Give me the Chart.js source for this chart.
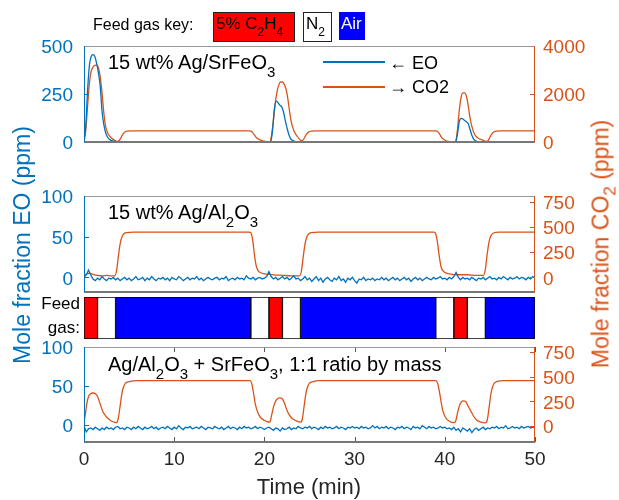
<!DOCTYPE html>
<html><head><meta charset="utf-8">
<script src="https://cdn.jsdelivr.net/npm/chart.js@4.4.0/dist/chart.umd.min.js"></script>
<style>
body{margin:0;background:#fff;}
#wrap{position:relative;width:619px;height:500px;overflow:hidden;font-family:'Liberation Sans',Arial,Helvetica,sans-serif;color:#000;}
canvas{position:absolute;left:0;}
.t{position:absolute;white-space:nowrap;line-height:1;}
.s{position:relative;}
.box{position:absolute;box-sizing:border-box;}
</style></head><body><div id="wrap">
<canvas id="c1" width="619" height="146" style="top:21px"></canvas>
<canvas id="c2" width="619" height="146" style="top:171px"></canvas>
<canvas id="cf" width="619" height="52" style="top:292px"></canvas>
<canvas id="c3" width="619" height="156" style="top:322px"></canvas>

<div class="t" style="left:93px;top:17px;font-size:16px">Feed gas key:</div>
<div class="box" style="left:213px;top:12px;width:82px;height:30px;background:#ff0000;border:1px solid #222"></div>
<div class="t" style="left:216px;top:15px;font-size:17px">5% C<span class="s" style="font-size:12px;top:7px">2</span>H<span class="s" style="font-size:12px;top:7px">4</span></div>
<div class="box" style="left:303px;top:12px;width:29px;height:30px;background:#fff;border:1px solid #222"></div>
<div class="t" style="left:306px;top:15px;font-size:17px">N<span class="s" style="font-size:12px;top:7px">2</span></div>
<div class="box" style="left:339px;top:12px;width:26px;height:28px;background:#0000ff"></div>
<div class="t" style="left:341px;top:15px;font-size:17px;color:#fff">Air</div>

<div class="t" style="left:108px;top:52px;font-size:20px">15 wt% Ag/SrFeO<span class="s" style="font-size:15px;top:8px">3</span></div>
<div class="t" style="left:108px;top:202px;font-size:20px">15 wt% Ag/Al<span class="s" style="font-size:15px;top:8px">2</span>O<span class="s" style="font-size:15px;top:8px">3</span></div>
<div class="t" style="left:108px;top:354px;font-size:20px">Ag/Al<span class="s" style="font-size:15px;top:8px">2</span>O<span class="s" style="font-size:15px;top:8px">3</span> + SrFeO<span class="s" style="font-size:15px;top:8px">3</span>, 1:1 ratio by mass</div>

<div class="box" style="left:323px;top:61px;width:62px;height:1.5px;background:#0072BD"></div>
<div class="box" style="left:323px;top:86px;width:62px;height:1.5px;background:#D95319"></div>
<div class="t" style="left:389px;top:54px;font-size:18px">← EO</div>
<div class="t" style="left:389px;top:78px;font-size:18px">→ CO2</div>

<div class="t" style="left:0;width:80px;text-align:right;top:295px;font-size:17px">Feed</div>
<div class="t" style="left:0;width:80px;text-align:right;top:319px;font-size:17px">gas:</div>

<div class="t" style="left:309px;top:476px;font-size:22px;transform:translateX(-50%);color:#262626">Time (min)</div>
<div class="t" style="left:22px;top:245px;font-size:23px;color:#0072BD;transform:translate(-50%,-50%) rotate(-90deg)">Mole fraction EO (ppm)</div>
<div class="t" style="left:601px;top:244px;font-size:23px;color:#D95319;transform:translate(-50%,-50%) rotate(-90deg)">Mole fraction CO<span class="s" style="font-size:17px;top:7px">2</span> (ppm)</div>
</div>
<script>
const BLUE = '#0072BD', ORANGE = '#D95319';

// ---------- data ----------
const timeTicks = [0, 10, 20, 30, 40, 50];
const eoTicks1 = [0, 250, 500];
const co2Ticks1 = [0, 2000, 4000];
const eoTicks23 = [0, 50, 100];
const co2Ticks23 = [0, 250, 500, 750];

// Panel 1: 15 wt% Ag/SrFeO3  [time (min), EO (ppm)]
const eoSrFeO3 = [[0,0],[0.2,90],[0.4,270],[0.6,400],[0.8,445],[1.0,455],[1.2,445],[1.4,410],[1.6,360],[1.8,290],[2.0,160],[2.2,90],[2.4,48],[2.6,26],[2.9,11],[3.3,4],[3.8,1],[5,-2],[6.5,1],[8,-1],[9.5,2],[11,-2],[12.5,0],[14,-1],[15.5,2],[17,-2],[18.5,0],[20.7,0],[20.9,60],[21.1,170],[21.3,213],[21.5,205],[21.7,192],[21.9,184],[22.1,160],[22.3,115],[22.5,75],[22.7,40],[22.9,18],[23.2,6],[23.6,1],[25,-1],[27,2],[29,-2],[31,1],[33,-1],[35,2],[37,-2],[39,0],[41.2,0],[41.4,40],[41.6,105],[41.8,123],[42.0,120],[42.2,112],[42.4,105],[42.6,95],[42.8,65],[43.0,35],[43.2,15],[43.5,4],[44,0],[46,-1],[48,1],[50,0]];
// [time (min), CO2 (ppm)]
const co2SrFeO3 = [[0,0],[0.2,500],[0.4,1500],[0.6,2450],[0.8,2950],[1.0,3120],[1.2,3190],[1.4,3200],[1.6,3100],[1.8,2700],[2.0,2050],[2.2,1200],[2.4,650],[2.6,400],[2.9,220],[3.2,120],[3.5,50],[3.7,20],[3.9,60],[4.1,180],[4.3,320],[4.5,410],[4.8,450],[5.3,460],[18.3,460],[18.5,450],[18.7,390],[18.9,290],[19.1,190],[19.4,110],[19.8,50],[20.2,20],[20.5,10],[20.6,10],[20.8,300],[21.0,900],[21.2,1600],[21.4,2100],[21.6,2380],[21.8,2500],[22.0,2500],[22.2,2400],[22.4,2200],[22.6,1800],[22.8,1250],[23.0,800],[23.3,450],[23.6,250],[23.9,120],[24.1,60],[24.3,90],[24.5,220],[24.7,340],[24.9,410],[25.2,450],[25.7,460],[39.0,460],[39.2,440],[39.4,350],[39.6,210],[39.9,100],[40.2,40],[40.6,10],[41.0,0],[41.2,30],[41.4,500],[41.6,1300],[41.8,1850],[42.0,2050],[42.2,2050],[42.4,1900],[42.6,1500],[42.8,1000],[43.0,650],[43.3,320],[43.7,160],[44.2,80],[44.6,30],[44.8,60],[45.0,200],[45.2,330],[45.4,410],[45.7,450],[46.2,460],[50,460]];

// Time grid for the noisy EO traces (panels 2 and 3)
const noiseTime = [
0,0.25,0.5,0.75,1,1.25,1.5,1.75,2,2.25,2.5,2.75,3,3.25,3.5,3.75,4,4.25,4.5,4.75,
5,5.25,5.5,5.75,6,6.25,6.5,6.75,7,7.25,7.5,7.75,8,8.25,8.5,8.75,9,9.25,9.5,9.75,
10,10.25,10.5,10.75,11,11.25,11.5,11.75,12,12.25,12.5,12.75,13,13.25,13.5,13.75,14,14.25,14.5,14.75,
15,15.25,15.5,15.75,16,16.25,16.5,16.75,17,17.25,17.5,17.75,18,18.25,18.5,18.75,19,19.25,19.5,19.75,
20,20.25,20.5,20.75,21,21.25,21.5,21.75,22,22.25,22.5,22.75,23,23.25,23.5,23.75,24,24.25,24.5,24.75,
25,25.25,25.5,25.75,26,26.25,26.5,26.75,27,27.25,27.5,27.75,28,28.25,28.5,28.75,29,29.25,29.5,29.75,
30,30.25,30.5,30.75,31,31.25,31.5,31.75,32,32.25,32.5,32.75,33,33.25,33.5,33.75,34,34.25,34.5,34.75,
35,35.25,35.5,35.75,36,36.25,36.5,36.75,37,37.25,37.5,37.75,38,38.25,38.5,38.75,39,39.25,39.5,39.75,
40,40.25,40.5,40.75,41,41.25,41.5,41.75,42,42.25,42.5,42.75,43,43.25,43.5,43.75,44,44.25,44.5,44.75,
45,45.25,45.5,45.75,46,46.25,46.5,46.75,47,47.25,47.5,47.75,48,48.25,48.5,48.75,49,49.25,49.5,49.75,
50];

// Panel 2: 15 wt% Ag/Al2O3, EO (ppm) on noiseTime
const eoAl2O3 = [
0,3,9,3,-2,-4,-1,-3,1,-2,-4,-1,-2,0,-3,-1,-4,-2,0,-3,
-1,-4,-2,1,-3,-2,0,-4,-1,-3,1,-2,-4,-1,-2,0,-3,-1,-4,0,
-2,-3,1,-1,-4,-2,0,-3,-1,-2,1,-3,-1,-4,-2,0,-2,-3,-1,0,
-3,-1,-2,1,-4,-2,-1,-3,0,-2,-1,-3,2,-1,-2,0,-3,-1,0,-2,
-1,1,7,1,-2,0,-3,-1,1,-2,0,-3,-1,2,-2,-1,-4,-2,1,-3,
-1,-5,-2,1,-4,-1,-6,-2,0,-3,-5,-1,-3,1,-4,-2,-6,-1,-3,0,
-4,-7,-2,-3,0,-4,-2,-3,-1,-4,-2,-3,0,-3,-1,-4,-2,0,-3,-1,
-4,-2,0,-3,-1,-5,-2,0,-3,-1,-4,-2,0,-2,-3,0,-2,-1,1,-2,
-1,-3,0,-2,1,6,0,-3,0,-2,-1,-3,0,-2,-4,-1,-2,0,-3,-1,
1,-2,-1,-3,0,-2,1,-1,-3,0,-2,-1,1,-2,0,-1,-3,0,-2,1,
-1];
// [time (min), CO2 (ppm)]
const co2Al2O3 = [[0,20],[0.3,35],[0.6,40],[1.0,30],[1.5,20],[2.0,15],[2.5,20],[3.0,15],[3.4,15],[3.6,60],[3.8,200],[4.0,330],[4.2,400],[4.4,430],[4.7,443],[5.5,448],[18.3,448],[18.5,440],[18.7,370],[18.9,220],[19.1,110],[19.3,65],[19.6,45],[20.0,35],[21.0,25],[22.0,20],[23.0,15],[23.9,15],[24.1,60],[24.3,200],[24.5,330],[24.7,400],[24.9,430],[25.2,443],[26.0,448],[38.8,448],[39.0,430],[39.2,340],[39.4,200],[39.6,100],[39.9,55],[40.5,35],[41.5,25],[42.5,25],[43.5,20],[44.3,20],[44.5,80],[44.7,230],[44.9,350],[45.1,410],[45.4,440],[46.0,448],[50,448]];

// Panel 3: Ag/Al2O3 + SrFeO3, EO (ppm) on noiseTime
const eoMixed = [
-1,-9,-5,-4,-6,-3,-5,-7,-4,-6,-3,-5,-4,-6,-3,-2,-5,-4,-6,-3,
-4,-6,-3,-5,-2,-4,-6,-3,-5,-4,-2,-5,-3,-6,-4,-3,-5,-2,-4,-6,
-3,-5,-1,-4,-6,-3,-4,-2,-5,-4,-3,-5,-2,-4,-6,-3,-4,-5,-2,-4,
-5,-3,-6,-4,-2,-5,-3,-4,-6,-3,-5,-2,-4,-3,-5,-4,-2,-5,-3,-4,
-6,-4,-3,-5,-7,-4,-5,-8,-4,-6,-5,-3,-6,-4,-5,-2,-4,-5,-3,-4,
-2,-5,-3,-4,-6,-3,-5,-2,-4,-3,-5,-4,-2,-5,-3,-4,-6,-3,-4,-2,
-4,-3,-5,-2,-4,-3,-5,-4,-1,-4,-2,-5,-3,-4,-2,-5,-3,-4,-6,-3,
-4,-2,-5,-3,-4,-6,-2,-4,-3,-5,-1,-3,-5,-2,-4,-3,-5,-4,-2,-4,
-3,-5,-4,-6,-3,-7,-5,-9,-4,-6,-8,-5,-10,-6,-4,-7,-5,-3,-6,-4,
-5,-3,-4,-2,-5,-3,-4,-1,-5,-4,-2,-4,-3,-5,-2,-4,-3,-2,-4,-3,
-4];
// [time (min), CO2 (ppm)]
const co2Mixed = [[0,40],[0.15,120],[0.3,220],[0.5,300],[0.7,325],[1.0,335],[1.3,325],[1.5,300],[1.7,250],[1.9,195],[2.1,145],[2.4,105],[2.7,75],[3.0,55],[3.3,42],[3.6,35],[3.8,80],[4.0,200],[4.2,330],[4.4,400],[4.6,435],[5.0,450],[6.0,460],[18.4,460],[18.6,430],[18.8,330],[19.0,220],[19.3,130],[19.6,85],[20.0,58],[20.4,42],[20.6,42],[20.8,110],[21.0,190],[21.2,245],[21.4,272],[21.7,285],[22.0,275],[22.2,240],[22.4,185],[22.6,140],[22.9,95],[23.2,70],[23.6,50],[24.0,40],[24.2,70],[24.4,200],[24.6,330],[24.8,400],[25.0,435],[25.4,450],[26.0,460],[39.0,460],[39.2,435],[39.4,350],[39.6,240],[39.8,150],[40.1,85],[40.5,50],[41.0,35],[41.2,50],[41.4,130],[41.6,200],[41.8,240],[42.0,255],[42.3,250],[42.6,200],[42.9,150],[43.2,100],[43.5,65],[44.0,40],[44.5,33],[44.7,60],[44.9,180],[45.1,320],[45.3,400],[45.5,435],[45.8,452],[46.5,460],[50,460]];

// Feed gas sequence
const feedStart = [0, 1.5, 3.5, 18.5, 20.5, 22, 24, 39, 41, 42.5, 44.5];
const feedEnd   = [1.5, 3.5, 18.5, 20.5, 22, 24, 39, 41, 42.5, 44.5, 50];
const feedGas   = ['C2H4','N2','Air','N2','C2H4','N2','Air','N2','C2H4','N2','Air'];
const gasColor  = {C2H4:'#ff0000', N2:'#ffffff', Air:'#0000ff'};

// ---------- drawing ----------
Chart.defaults.font.family = "'Liberation Sans', Arial, Helvetica, sans-serif";

const pairs = arr => arr.map(p => ({x: p[0], y: p[1]}));
const zip = (xs, ys) => xs.map((x, i) => ({x: x, y: ys[i]}));
const plain = v => String(v);

const framePlugin = {
  id: 'frame',
  afterDatasetsDraw(chart, args, o) {
    const {ctx, chartArea: a, scales} = chart;
    const L = a.left, R = a.right, T = a.top, B = a.bottom, TL = 5;
    ctx.save();
    ctx.lineWidth = 1;
    ctx.strokeStyle = BLUE;
    scales.y.ticks.forEach(t => {
      const p = Math.round(scales.y.getPixelForValue(t.value)) + 0.5;
      ctx.beginPath(); ctx.moveTo(L, p); ctx.lineTo(L + TL, p); ctx.stroke();
    });
    ctx.strokeStyle = ORANGE;
    scales.y2.ticks.forEach(t => {
      const p = Math.round(scales.y2.getPixelForValue(t.value)) + 0.5;
      ctx.beginPath(); ctx.moveTo(R - TL, p); ctx.lineTo(R, p); ctx.stroke();
    });
    if (o.xTicks) {
      ctx.strokeStyle = '#555';
      scales.x.ticks.forEach(t => {
        const p = Math.round(scales.x.getPixelForValue(t.value)) + 0.5;
        ctx.beginPath(); ctx.moveTo(p, B); ctx.lineTo(p, B - TL); ctx.stroke();
        ctx.beginPath(); ctx.moveTo(p, T); ctx.lineTo(p, T + TL); ctx.stroke();
      });
    }
    ctx.strokeStyle = '#999'; ctx.lineWidth = 1;
    ctx.beginPath(); ctx.moveTo(L, T + 0.5); ctx.lineTo(R, T + 0.5); ctx.stroke();
    ctx.strokeStyle = '#777'; ctx.lineWidth = 2;
    ctx.beginPath(); ctx.moveTo(L, B); ctx.lineTo(R, B); ctx.stroke();
    ctx.lineWidth = 1;
    ctx.strokeStyle = BLUE;
    ctx.beginPath(); ctx.moveTo(L + 0.5, T); ctx.lineTo(L + 0.5, B); ctx.stroke();
    ctx.strokeStyle = ORANGE;
    ctx.beginPath(); ctx.moveTo(R - 0.5, T); ctx.lineTo(R - 0.5, B); ctx.stroke();
    ctx.restore();
  }
};

function makePanel(id, eoData, co2Data, eoSmooth, yL, yR, tL, tR, showX, padBottom) {
  const xScale = {
    type: 'linear', min: 0, max: 50, display: showX,
    grid: {display: false, drawTicks: false}, border: {display: false},
    ticks: {color: '#262626', font: {size: 19}, padding: 6, maxRotation: 0, autoSkip: false, callback: plain},
    afterBuildTicks: s => { s.ticks = timeTicks.map(v => ({value: v})); }
  };
  if (showX) xScale.afterFit = s => { s.height = 30; };
  return new Chart(document.getElementById(id), {
    type: 'line',
    data: {datasets: [
      {label: 'EO', data: eoData, yAxisID: 'y', borderColor: BLUE, borderWidth: 1.3, pointRadius: 0,
       cubicInterpolationMode: eoSmooth ? 'monotone' : 'default', tension: 0},
      {label: 'CO2', data: co2Data, yAxisID: 'y2', borderColor: ORANGE, borderWidth: 1.3, pointRadius: 0,
       cubicInterpolationMode: 'monotone'}
    ]},
    options: {
      responsive: false, animation: false, events: [],
      layout: {padding: {top: 25, bottom: padBottom, left: 0, right: 0}},
      plugins: {legend: {display: false}, tooltip: {enabled: false}, frame: {xTicks: showX}},
      scales: {
        x: xScale,
        y: {position: 'left', min: yL[0], max: yL[1],
            grid: {display: false, drawTicks: false}, border: {display: false},
            ticks: {color: BLUE, font: {size: 19}, padding: 11, labelOffset: 2, callback: plain},
            afterBuildTicks: s => { s.ticks = tL.map(v => ({value: v})); },
            afterFit: s => { s.width = 84; }},
        y2: {position: 'right', min: yR[0], max: yR[1],
            grid: {display: false, drawTicks: false}, border: {display: false},
            ticks: {color: ORANGE, font: {size: 19}, padding: 8, labelOffset: 2, callback: plain},
            afterBuildTicks: s => { s.ticks = tR.map(v => ({value: v})); },
            afterFit: s => { s.width = 84; }}
      }
    },
    plugins: [framePlugin]
  });
}

makePanel('c1', pairs(eoSrFeO3), pairs(co2SrFeO3), true, [0, 500], [0, 4000], eoTicks1, co2Ticks1, false, 25);
makePanel('c2', zip(noiseTime, eoAl2O3), pairs(co2Al2O3), false, [-18, 100], [-146, 807], eoTicks23, co2Ticks23, false, 25);
makePanel('c3', zip(noiseTime, eoMixed), pairs(co2Mixed), false, [-22, 100], [-160, 800], eoTicks23, co2Ticks23, true, 6);

new Chart(document.getElementById('cf'), {
  type: 'bar',
  data: {
    labels: ['Feed gas'],
    datasets: feedStart.map((s, i) => ({
      label: feedGas[i], data: [[s, feedEnd[i]]],
      backgroundColor: gasColor[feedGas[i]], borderColor: '#000', borderWidth: 1,
      borderSkipped: false, grouped: false, barPercentage: 1, categoryPercentage: 1
    }))
  },
  options: {
    indexAxis: 'y', responsive: false, animation: false, events: [],
    layout: {padding: {top: 5, bottom: 5, left: 84, right: 84}},
    plugins: {legend: {display: false}, tooltip: {enabled: false}},
    scales: {
      x: {type: 'linear', min: 0, max: 50, display: false},
      y: {display: false}
    }
  }
});
</script>
</body></html>
